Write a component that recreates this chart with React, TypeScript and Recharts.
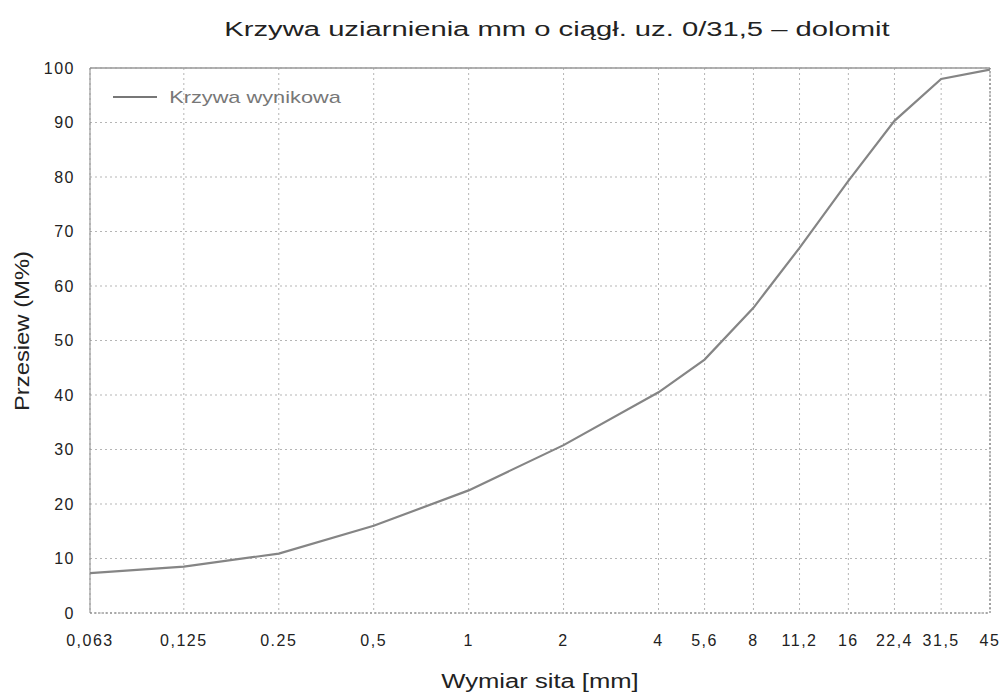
import { LineChart, Line, XAxis, YAxis, CartesianGrid, ReferenceLine } from "recharts";

// Sieve sizes [mm] and passing [%]
const sieves = [0.063, 0.125, 0.25, 0.5, 1, 2, 4, 5.6, 8, 11.2, 16, 22.4, 31.5, 45];
const passing = [7.3, 8.5, 10.9, 16, 22.5, 30.8, 40.5, 46.5, 56, 67, 79.3, 90.3, 98, 99.7];
const xTickLabels = ["0,063", "0,125", "0.25", "0,5", "1", "2", "4", "5,6", "8", "11,2", "16", "22,4", "31,5", "45"];
const yTicks = [0, 10, 20, 30, 40, 50, 60, 70, 80, 90, 100];

const data = sieves.map((s, i) => ({ size: s, pass: passing[i] }));

const FONT = "'Liberation Sans', Arial, sans-serif";

// the scan is a bit stretched sideways, so the text is widened to match
const wide = (cx: number, cy: number, size: number, sx: number, color = "#222", rotate = false): React.CSSProperties => ({
  position: "absolute",
  left: cx,
  top: cy,
  whiteSpace: "nowrap",
  fontFamily: FONT,
  fontSize: size,
  color,
  lineHeight: 1,
  transform: rotate
    ? `translate(-50%, -50%) rotate(-90deg) scaleX(${sx})`
    : `translate(-50%, -50%) scaleX(${sx})`,
});

export default function App() {
  return (
    <div style={{ position: "absolute", left: 0, top: 0, width: 1005, height: 697, background: "#fff" }}>
      <LineChart width={1005} height={697} data={data} margin={{ top: 68, right: 15, left: 0, bottom: 0 }}>
        <CartesianGrid stroke="#b5b5b5" strokeDasharray="2 3" />
        <XAxis
          dataKey="size"
          type="number"
          scale="log"
          domain={[0.063, 45]}
          ticks={sieves}
          interval={0}
          allowDataOverflow
          height={84}
          tickSize={0}
          tickMargin={22}
          axisLine={{ stroke: "#777", strokeDasharray: "2 2" }}
          tick={{ fill: "#222", fontSize: 16, fontFamily: FONT, letterSpacing: 1.5 }}
          tickFormatter={(v: number) => xTickLabels[sieves.indexOf(v)] ?? String(v)}
        />
        <YAxis
          type="number"
          domain={[0, 100]}
          ticks={yTicks}
          interval={0}
          width={90}
          tickSize={0}
          tickMargin={15}
          axisLine={{ stroke: "#888" }}
          tick={{ fill: "#222", fontSize: 16, fontFamily: FONT, letterSpacing: 1.5 }}
        />
        <ReferenceLine y={100} stroke="#999" strokeWidth={1.5} />
        <ReferenceLine x={45} stroke="#666" strokeDasharray="2 2" />
        <Line
          type="linear"
          dataKey="pass"
          stroke="#858585"
          strokeWidth={2.2}
          dot={false}
          isAnimationActive={false}
        />
      </LineChart>

      <div style={wide(557, 29, 20, 1.46)}>Krzywa uziarnienia mm o ciągł. uz. 0/31,5 – dolomit</div>
      <div style={wide(22, 331, 20, 1.19, "#222", true)}>Przesiew (M%)</div>
      <div style={wide(540, 681, 20, 1.28)}>Wymiar sita [mm]</div>

      {/* legend */}
      <div style={{ position: "absolute", left: 113, top: 96, width: 44, height: 2, background: "#777" }} />
      <div style={wide(255, 97, 17, 1.28, "#777")}>Krzywa wynikowa</div>
    </div>
  );
}
